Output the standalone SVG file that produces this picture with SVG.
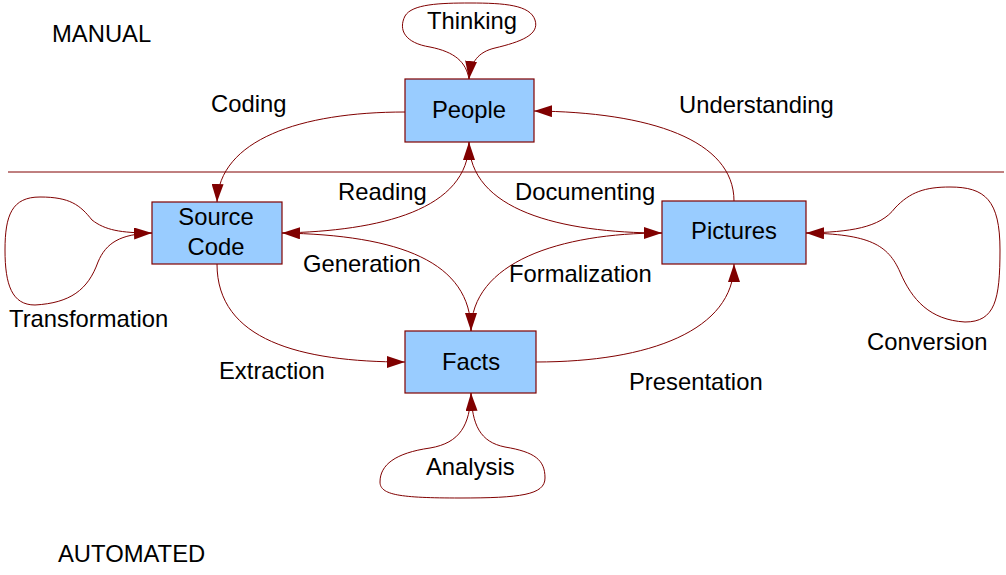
<svg xmlns="http://www.w3.org/2000/svg" width="1006" height="575" viewBox="0 0 1006 575">
<defs>
<style>
.box{fill:#99ccff;stroke:#800000;stroke-width:1.2}
.con{fill:none;stroke:#800000;stroke-width:1;marker-end:url(#arr)}
.t{font-family:"Liberation Sans",Arial,sans-serif;font-size:23.8px;fill:#000}
.c{text-anchor:middle}
</style>
<marker id="arr" markerUnits="userSpaceOnUse" markerWidth="18" markerHeight="12" viewBox="0 0 18 12" refX="18" refY="6" orient="auto">
<path d="M0,0 L18,6 L0,12 z" fill="#800000"/>
</marker>
</defs>
<rect width="1006" height="575" fill="#fff"/>
<line id="divider" x1="8" y1="172" x2="1004" y2="172" stroke="#800000" stroke-width="1"/>
<text class="t" x="52" y="42">MANUAL</text>
<text class="t" x="58" y="562">AUTOMATED</text>
<g id="connectors">
<path class="con" d="M469,79 C466,62 455,52 430,47 C405,43 398,30 405,16 C412,4 440,3 470,3 C505,3 530,5 535,20 C540,35 520,42 495,48 C478,52 471,62 469,79"/>
<path class="con" d="M152,233 C120,233 105,230 92,220 C80,205 70,197 40,197 C12,197 5,215 5,250 C5,285 12,305 35,305 C70,303 88,290 98,262 C106,243 120,234 152,233"/>
<path class="con" d="M806,233 C850,232 880,228 895,208 C910,192 925,187 950,187 C985,187 1000,200 1000,250 C1000,300 995,322 965,322 C930,320 912,300 900,272 C888,245 870,234 806,233"/>
<path class="con" d="M471,393 C470,425 460,443 430,448 C395,453 380,465 380,482 C380,495 400,498 460,498 C520,498 545,495 545,478 C545,460 535,452 505,447 C480,442 472,425 471,393"/>
<path class="con" d="M405,112 C300,112 219,140 217,202"/>
<path class="con" d="M734,201 C734,140 650,112 534,111"/>
<path class="con" d="M282,233 C380,231 469,210 469,142"/>
<path class="con" d="M471,331 C471,262 400,235 282,233"/>
<path class="con" d="M469,142 C469,210 560,233 662,233"/>
<path class="con" d="M662,233 C560,233 471,262 471,331"/>
<path class="con" d="M217,264 C217,340 300,362 405,362"/>
<path class="con" d="M536,362 C650,362 734,330 734,264"/>
</g>
<g id="people"><rect class="box" x="405" y="79" width="129" height="63"/><text class="t c" x="469" y="118">People</text></g>
<g id="source-code"><rect class="box" x="152" y="202" width="130" height="62"/><text class="t c" x="216" y="225">Source</text><text class="t c" x="216" y="255">Code</text></g>
<g id="pictures"><rect class="box" x="662" y="201" width="144" height="63"/><text class="t c" x="734" y="239">Pictures</text></g>
<g id="facts"><rect class="box" x="405" y="331" width="131" height="62"/><text class="t c" x="471" y="370">Facts</text></g>
<g id="labels">
<text class="t c" x="472" y="29">Thinking</text>
<text class="t" x="211" y="112">Coding</text>
<text class="t" x="679" y="113">Understanding</text>
<text class="t" x="338" y="200">Reading</text>
<text class="t" x="515" y="200">Documenting</text>
<text class="t" x="303" y="272">Generation</text>
<text class="t" x="509" y="282">Formalization</text>
<text class="t" x="9" y="327">Transformation</text>
<text class="t" x="867" y="350">Conversion</text>
<text class="t" x="219" y="379">Extraction</text>
<text class="t" x="629" y="390">Presentation</text>
<text class="t" x="426" y="475">Analysis</text>
</g>
</svg>
